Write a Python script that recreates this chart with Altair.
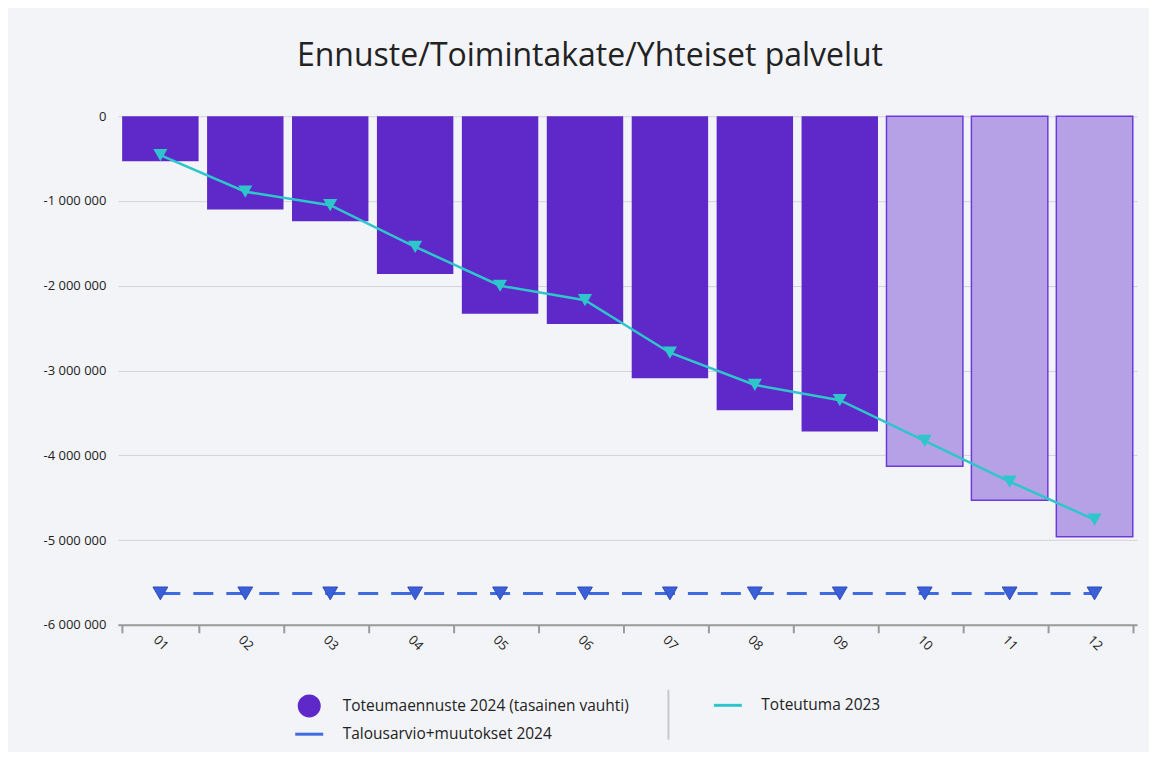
import altair as alt
import pandas as pd

months = ["01", "02", "03", "04", "05", "06", "07", "08", "09", "10", "11", "12"]
forecast_2024 = [-530000, -1100000, -1240000, -1860000, -2330000, -2450000,
                 -3090000, -3470000, -3720000, -4130000, -4530000, -4960000]
is_forecast = [False] * 9 + [True] * 3
actual_2023 = [-460000, -890000, -1050000, -1540000, -2000000, -2170000,
               -2790000, -3170000, -3350000, -3830000, -4310000, -4760000]
budget_2024 = [-5630000] * 12

S_BAR = "Toteumaennuste 2024 (tasainen vauhti)"
S_2023 = "Toteutuma 2023"
S_BUD = "Talousarvio+muutokset 2024"

bars = pd.DataFrame({"month": months, "value": forecast_2024, "forecast": is_forecast, "series": S_BAR})
line23 = pd.DataFrame({"month": months, "value": actual_2023, "series": S_2023})
bud = pd.DataFrame({"month": months, "value": budget_2024, "series": S_BUD})

FONT = "Open Sans"
x_enc = alt.X("month:O", title=None, scale=alt.Scale(paddingInner=0.1, paddingOuter=0.05),
              axis=alt.Axis(labelAngle=45, labelAlign="center", labelBaseline="middle",
                            labelPadding=10, tickBand="extent", tickSize=8, tickWidth=2,
                            tickColor="#9a9a9a", domainColor="#9a9a9a", domainWidth=2,
                            labelFontSize=13, labelColor="#222", labelFont=FONT, grid=False))
y_enc = alt.Y("value:Q", title=None,
              scale=alt.Scale(domain=[-6000000, 0], nice=False),
              axis=alt.Axis(values=[0, -1000000, -2000000, -3000000, -4000000, -5000000, -6000000],
                            labelExpr="datum.value == 0 ? '0' : '-' + format(-datum.value / 1000000, 'd') + ' 000 000'",
                            domain=False, ticks=False, labelPadding=12, labelFontSize=13,
                            labelColor="#222", labelFont=FONT, gridColor="#d3d3d6", gridWidth=1))

color_scale = alt.Scale(domain=[S_BAR, S_BUD, S_2023], range=["#5f28c9", "#3f6ae0", "#2ec6cb"])
legend = alt.Legend(
    title=None, orient="none", legendX=180, legendY=578, columns=2, columnPadding=78,
    rowPadding=-13.5, symbolSize=400, symbolStrokeWidth=3, labelFontSize=15.5, labelFont=FONT,
    labelColor="#222", labelOffset=22, labelLimit=0, gridAlign="all",
    symbolType={"expr": "datum.value == '" + S_BAR + "' ? 'circle' : 'M-1.4,0H1.4M0,-1.13M0,1.13'"},
    symbolFillColor={"expr": "scale('color', datum.value)"},
    symbolStrokeColor={"expr": "scale('color', datum.value)"},
)
color_enc = alt.Color("series:N", scale=color_scale, legend=legend)

bar_actual = alt.Chart(bars).transform_filter("!datum.forecast").mark_bar().encode(
    x=x_enc, y=y_enc, color=color_enc)
bar_fc = alt.Chart(bars).transform_filter("datum.forecast").mark_bar(
    fill="#b6a1e6", stroke="#6b3bd9", strokeWidth=1.5).encode(x=x_enc, y=y_enc)

l23 = alt.Chart(line23).mark_line(strokeWidth=2.5).encode(x=x_enc, y=y_enc, color=color_enc)
p23 = alt.Chart(line23).mark_point(shape="triangle-down", filled=True, size=200, opacity=1,
                                   color="#2ec6cb").encode(x=x_enc, y=y_enc)
lbud = alt.Chart(bud).mark_line(strokeWidth=3, strokeDash=[20, 13]).encode(x=x_enc, y=y_enc, color=color_enc)
pbud = alt.Chart(bud).mark_point(shape="triangle-down", filled=True, size=220, opacity=1,
                                 color="#3a5fd8", stroke="#2c4cb8", strokeWidth=1).encode(x=x_enc, y=y_enc)

sep = alt.Chart(pd.DataFrame({"a": [0]})).mark_rule(color="#c8c8c8", strokeWidth=2).encode(
    x=alt.value(551), y=alt.value(574), y2=alt.value(624))

chart = alt.layer(bar_actual, bar_fc, lbud, pbud, l23, p23, sep).properties(
    width=1020, height=509,
    title=alt.TitleParams("Ennuste/Toimintakate/Yhteiset palvelut", fontSize=32, font=FONT,
                          fontWeight="normal", color="#222", anchor="middle", frame="bounds",
                          offset=37),
    autosize=alt.AutoSizeParams(type="none"),
    padding={"left": 110, "top": 108, "right": 12, "bottom": 127},
    background="#f3f4f8",
).configure_view(stroke=None)

chart.save("out.html", embed_options={"renderer": "svg", "actions": False})
